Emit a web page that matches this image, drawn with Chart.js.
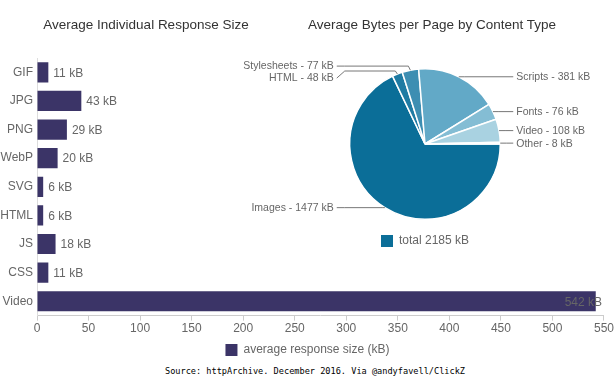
<!DOCTYPE html>
<html>
<head>
<meta charset="utf-8">
<script src="https://cdn.jsdelivr.net/npm/chart.js@4"></script>
<style>
  html, body { margin: 0; padding: 0; background: #fff; }
  #wrap { position: relative; width: 615px; height: 384px; overflow: hidden; font-family: "Liberation Sans", Arial, sans-serif; }
  #barBox { position: absolute; left: 0; top: 0; width: 615px; height: 366px; }
  #pieBox { position: absolute; left: 200px; top: 0; width: 415px; height: 257px; }
  .title { position: absolute; top: 17px; font-size: 13.5px; color: #333; text-align: center; white-space: nowrap; }
  #source { position: absolute; left: 0; width: 630px; top: 366px; text-align: center; font-family: "DejaVu Sans Mono", monospace; font-size: 8.6px; color: #000; white-space: nowrap; }
</style>
</head>
<body>
<div id="wrap">
  <div id="barBox"><canvas id="bar"></canvas></div>
  <div id="pieBox"><canvas id="pie"></canvas></div>
  <div class="title" style="left:0;width:292px;">Average Individual Response Size</div>
  <div class="title" style="left:250px;width:364px;">Average Bytes per Page by Content Type</div>
  <div id="source">Source: httpArchive. December 2016. Via @andyfavell/ClickZ</div>
</div>
<script>
// ---- data ----
const barCategories = ['GIF', 'JPG', 'PNG', 'WebP', 'SVG', 'HTML', 'JS', 'CSS', 'Video'];
const barValues = [11, 43, 29, 20, 6, 6, 18, 11, 542];
const barSeriesName = 'average response size (kB)';
const xTickMax = 550;
const xTickStep = 50;

const pieCategories = ['Images', 'HTML', 'Stylesheets', 'Scripts', 'Fonts', 'Video', 'Other'];
const pieValues = [1477, 48, 77, 381, 76, 108, 8];
const pieTotal = 2185;
const pieColors = ['#0b6e98', '#1f7ba3', '#3d8eb2', '#62a9c7', '#84bdd4', '#a9d2e1', '#d0e7ef'];
const barColor = '#3b3467';

const FONT = '"Liberation Sans", Arial, sans-serif';
const TEXT = '#666';

// ---- bar chart ----
const barLabelPlugin = {
  id: 'barLabels',
  afterDatasetsDraw(chart) {
    const ctx = chart.ctx;
    const meta = chart.getDatasetMeta(0);
    const area = chart.chartArea;
    ctx.save();
    ctx.font = '12px ' + FONT;
    ctx.fillStyle = TEXT;
    ctx.textBaseline = 'middle';
    ctx.textAlign = 'left';
    meta.data.forEach((bar, i) => {
      const txt = barValues[i] + ' kB';
      const w = ctx.measureText(txt).width;
      let x = bar.x + 5;
      if (x + w > area.right - 2) x = area.right - 2 - w;
      ctx.fillText(txt, x, bar.y + 1);
    });
    ctx.restore();
  }
};

new Chart(document.getElementById('bar'), {
  type: 'bar',
  data: {
    labels: barCategories,
    datasets: [{
      label: barSeriesName,
      data: barValues,
      backgroundColor: barColor,
      borderWidth: 0,
      categoryPercentage: 0.8,
      barPercentage: 0.88
    }]
  },
  options: {
    indexAxis: 'y',
    responsive: true,
    maintainAspectRatio: false,
    animation: false,
    layout: { padding: { top: 58, left: 0, right: 0, bottom: 0 } },
    scales: {
      x: {
        min: 0, max: xTickMax,
        ticks: { stepSize: xTickStep, color: TEXT, font: { family: FONT, size: 12 }, padding: 1 },
        grid: { display: true, drawOnChartArea: false, drawTicks: true, tickLength: 5, color: '#ccc' },
        border: { display: true, color: '#ccc' }
      },
      y: {
        ticks: { color: TEXT, font: { family: FONT, size: 12 }, padding: 4 },
        grid: { display: false, drawTicks: false, tickLength: 0 },
        border: { display: true, color: '#ddd' },
        afterFit(scale) { scale.width = 37; }
      }
    },
    plugins: {
      legend: {
        position: 'bottom',
        onClick: null,
        labels: { boxWidth: 12, boxHeight: 12, color: TEXT, font: { family: FONT, size: 12 }, padding: 7 }
      },
      tooltip: { enabled: false },
      title: { display: false }
    }
  },
  plugins: [barLabelPlugin]
});

// ---- pie chart ----
const pieLabelPlugin = {
  id: 'pieLabels',
  afterDatasetsDraw(chart) {
    const ctx = chart.ctx;
    const meta = chart.getDatasetMeta(0);
    const items = meta.data.map((arc, i) => {
      const mid = (arc.startAngle + arc.endAngle) / 2;
      const r = arc.outerRadius;
      const ex = arc.x + Math.cos(mid) * r;
      const ey = arc.y + Math.sin(mid) * r;
      return { i, ex, ey, ly: ey, right: Math.cos(mid) >= 0, cx: arc.x, r };
    });
    const gap = 12;
    [true, false].forEach(side => {
      const list = items.filter(o => o.right === side).sort((a, b) => a.ly - b.ly);
      for (let it = 0; it < 30; it++) {
        for (let k = 1; k < list.length; k++) {
          const d = list[k].ly - list[k - 1].ly;
          if (d < gap) {
            const push = (gap - d) / 2;
            list[k].ly += push;
            list[k - 1].ly -= push;
          }
        }
      }
    });
    ctx.save();
    ctx.font = '10.5px ' + FONT;
    ctx.textBaseline = 'middle';
    ctx.strokeStyle = '#777';
    ctx.lineWidth = 1;
    ctx.fillStyle = TEXT;
    items.forEach(o => {
      const txt = pieCategories[o.i] + ' - ' + pieValues[o.i] + ' kB';
      ctx.beginPath();
      if (o.right) {
        const lx = o.cx + o.r + 16;
        ctx.moveTo(o.ex, o.ey);
        ctx.lineTo(o.ex + 6, o.ly);
        ctx.lineTo(lx - 3, o.ly);
        ctx.stroke();
        ctx.textAlign = 'left';
        ctx.fillText(txt, lx, o.ly + 0.5);
      } else {
        const lx = o.cx - o.r - 16;
        const elbowY = o.ly > o.ey + 1 ? o.ey - 3 : o.ly;
        ctx.moveTo(lx + 3, o.ly);
        ctx.lineTo(lx + 11, elbowY);
        ctx.lineTo(o.ex - 2, elbowY);
        ctx.lineTo(o.ex, o.ey);
        ctx.stroke();
        ctx.textAlign = 'right';
        ctx.fillText(txt, lx, o.ly + 0.5);
      }
    });
    ctx.restore();
  }
};

new Chart(document.getElementById('pie'), {
  type: 'pie',
  data: {
    labels: pieCategories,
    datasets: [{
      data: pieValues,
      backgroundColor: pieColors,
      borderColor: '#fff',
      borderWidth: 1.5
    }]
  },
  options: {
    responsive: true,
    maintainAspectRatio: false,
    animation: false,
    rotation: 90,
    layout: { padding: { top: 68, left: 149, right: 114, bottom: 0 } },
    plugins: {
      legend: {
        position: 'bottom',
        onClick: null,
        labels: {
          boxWidth: 12, boxHeight: 12, color: TEXT, font: { family: FONT, size: 12 }, padding: 15,
          generateLabels() {
            return [{ text: 'total ' + pieTotal + ' kB', fillStyle: pieColors[0], strokeStyle: pieColors[0], lineWidth: 0, hidden: false, index: 0, fontColor: TEXT }];
          }
        }
      },
      tooltip: { enabled: false }
    }
  },
  plugins: [pieLabelPlugin]
});
</script>
</body>
</html>
